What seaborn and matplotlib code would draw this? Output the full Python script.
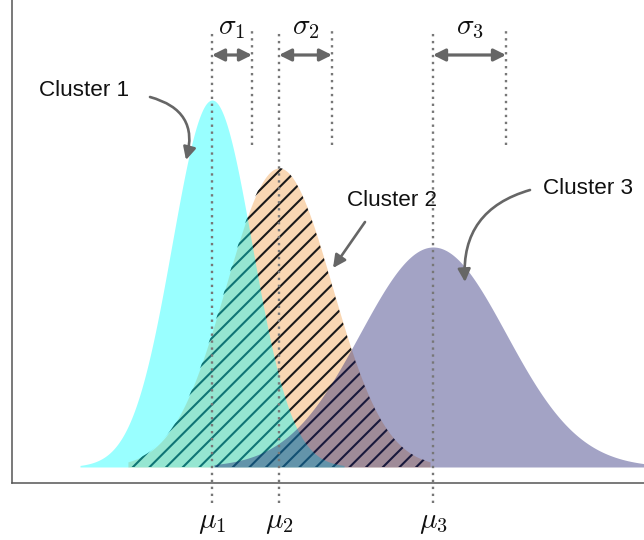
import numpy as np
import pandas as pd
import seaborn as sns
import matplotlib.pyplot as plt

sns.set_theme(style="white")
plt.rcParams['font.family'] = ['Liberation Sans', 'DejaVu Sans']
plt.rcParams['mathtext.fontset'] = 'cm'
plt.rcParams['hatch.linewidth'] = 1.5
plt.rcParams['hatch.color'] = '#1a1a1a'

# ---- data ----
clusters = ["Cluster 1", "Cluster 2", "Cluster 3"]
means = [200, 267, 421]
sigmas = [40, 53, 73]
peaks = [367, 299, 220]
tails = [3.3, 2.85, 3.0]
mu_labels = [r'$\mu_1$', r'$\mu_2$', r'$\mu_3$']
sigma_labels = [r'$\sigma_1$', r'$\sigma_2$', r'$\sigma_3$']
colors = ['#00ffff', '#f29b43', '#191970']

rows = []
for name, m, s, p, t in zip(clusters, means, sigmas, peaks, tails):
    xs = np.linspace(m - t * s, m + t * s, 400)
    ys = p * np.exp(-0.5 * ((xs - m) / s) ** 2)
    rows.append(pd.DataFrame({'x': xs, 'y': ys, 'cluster': name}))
df = pd.concat(rows, ignore_index=True)

DPI = 100
fig = plt.figure(figsize=(644 / DPI, 540 / DPI), dpi=DPI)
ax = fig.add_axes([12 / 644, 57 / 540, 632 / 644, 483 / 540])

order = [1, 0, 2]
for z, i in enumerate(order):
    sub = df[df.cluster == clusters[i]]
    sns.lineplot(data=sub, x='x', y='y', ax=ax, color=colors[i], lw=0, legend=False)
    ax.fill_between(sub.x, 0, sub.y, color=colors[i], alpha=0.4, lw=0, zorder=z + 1)
    if i == 1:
        ax.fill_between(sub.x, 0, sub.y, facecolor='none', edgecolor='#1a1a1a',
                        hatch='//', lw=0, zorder=z + 1)

dot_kw = dict(color='#777777', lw=1.7, dashes=(1, 1.95), clip_on=False, zorder=6)
for i in range(3):
    m, s = means[i], sigmas[i]
    ax.plot([m, m], [-36, 437], **dot_kw)
    ax.plot([m + s, m + s], [322, 437], **dot_kw)
    ax.annotate('', xy=(m, 412), xytext=(m + s, 412),
                arrowprops=dict(arrowstyle='<|-|>', color='#666666', lw=2.3,
                                mutation_scale=18, shrinkA=0, shrinkB=0), zorder=7)
    ax.text(m + s / 2, 440, sigma_labels[i], ha='center', va='center', fontsize=21,
            color='#111111')
    ax.text(m, -55, mu_labels[i], ha='center', va='center', fontsize=21,
            color='#111111', clip_on=False)

arrow_kw = dict(arrowstyle='-|>', color='#666666', lw=1.9, mutation_scale=19,
                shrinkA=0, shrinkB=0)
ax.annotate('', xy=(174, 307), xytext=(138, 370),
            arrowprops=dict(connectionstyle='arc3,rad=-0.5', **arrow_kw), zorder=8)
ax.text(72, 377, clusters[0], ha='center', va='center', fontsize=16.2, color='#111111')
ax.annotate('', xy=(321, 199), xytext=(353, 245),
            arrowprops=dict(connectionstyle='arc3,rad=0', **arrow_kw), zorder=8)
ax.text(380, 267, clusters[1], ha='center', va='center', fontsize=16.2, color='#111111')
ax.annotate('', xy=(453, 185), xytext=(518, 277),
            arrowprops=dict(connectionstyle='arc3,rad=0.4', **arrow_kw), zorder=8)
ax.text(576, 279, clusters[2], ha='center', va='center', fontsize=16.2, color='#111111')

ax.set_xlim(0, 632)
ax.set_ylim(-16, 467)
ax.set_xticks([])
ax.set_yticks([])
ax.set_xlabel('')
ax.set_ylabel('')
for sp in ['top', 'right']:
    ax.spines[sp].set_visible(False)
for sp in ['left', 'bottom']:
    ax.spines[sp].set_color('#555555')
    ax.spines[sp].set_linewidth(1.1)

fig.savefig('out.png', dpi=DPI)
